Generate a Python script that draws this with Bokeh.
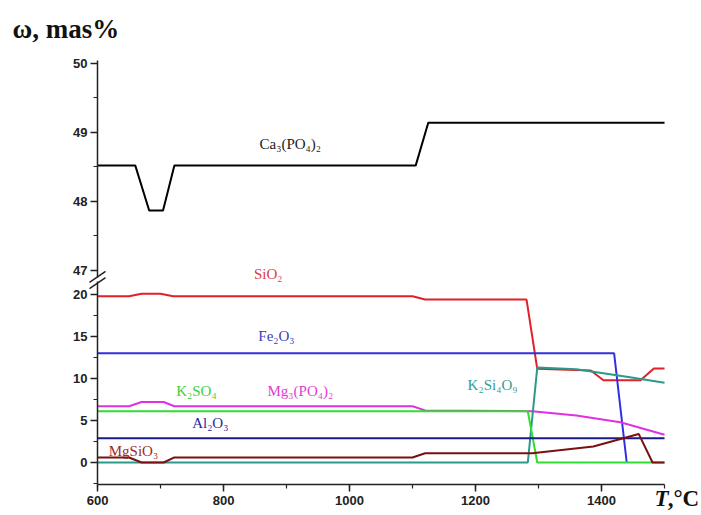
from bokeh.plotting import figure
from bokeh.models import (SingleIntervalTicker, Label, Range1d, LinearAxis)
from bokeh.embed import file_html
from bokeh.resources import INLINE

# ---- data (T in °C, ω in mass %) ----
ca_T = [600, 660, 682, 704, 722, 1105, 1125, 1500]
ca_v = [48.52, 48.52, 47.87, 47.87, 48.52, 48.52, 49.14, 49.14]

sio2_T = [600, 650, 670, 700, 720, 1100, 1120, 1281, 1298, 1383, 1403, 1462, 1483, 1500]
sio2_v = [19.8, 19.8, 20.1, 20.1, 19.8, 19.8, 19.4, 19.4, 11.15, 10.95, 9.8, 9.8, 11.2, 11.2]

fe2o3_T = [600, 1420, 1440]
fe2o3_v = [13.0, 13.0, 0.0]

mg3_T = [600, 650, 670, 705, 722, 1100, 1120, 1290, 1360, 1430, 1500]
mg3_v = [6.7, 6.7, 7.2, 7.2, 6.7, 6.7, 6.2, 6.1, 5.6, 4.8, 3.3]

k2so4_T = [600, 1283, 1298, 1500]
k2so4_v = [6.1, 6.1, 0.0, 0.0]

k2si_T = [600, 1283, 1298, 1360, 1440, 1500]
k2si_v = [0.0, 0.0, 11.3, 11.1, 10.2, 9.5]

al2o3_T = [600, 1500]
al2o3_v = [2.9, 2.9]

mgsio3_T = [600, 650, 670, 705, 722, 1100, 1120, 1290, 1387, 1459, 1481, 1500]
mgsio3_v = [0.6, 0.6, 0.0, 0.0, 0.6, 0.6, 1.1, 1.1, 1.9, 3.4, 0.0, 0.0]

FONT_TICK = "Liberation Sans"
FONT_SERIF = "Liberation Serif"

# Whole canvas is the frame; axes are drawn at fixed locations inside it.
p = figure(width=701, height=515, output_backend="svg", toolbar_location=None,
           x_range=Range1d(446.0, 1558.7), y_range=Range1d(-6.31, 55.0),
           min_border=0, min_border_left=0, min_border_right=0,
           min_border_top=0, min_border_bottom=0,
           x_axis_location=None, y_axis_location=None)
p.extra_y_ranges = {"upper": Range1d(43.449, 50.913)}
p.outline_line_color = None
p.xgrid.visible = False
p.ygrid.visible = False


def style_axis(ax):
    ax.axis_line_color = "#222"
    ax.axis_line_width = 1.5
    ax.major_tick_line_color = "#222"
    ax.minor_tick_line_color = "#222"
    ax.major_tick_line_width = 1.5
    ax.minor_tick_line_width = 1.2
    ax.major_tick_out = 7
    ax.major_tick_in = 0
    ax.minor_tick_out = 4
    ax.minor_tick_in = 0
    ax.major_label_text_font = FONT_TICK
    ax.major_label_text_font_style = "bold"
    ax.major_label_text_font_size = "13px"
    ax.major_label_text_color = "#222"
    ax.major_label_standoff = 3


ax_up = LinearAxis(y_range_name="upper", fixed_location=600, bounds=(46.9, 50.04),
                   ticker=SingleIntervalTicker(interval=1, num_minor_ticks=2))
ax_lo = LinearAxis(fixed_location=600, bounds=(-2.62, 21.5),
                   ticker=SingleIntervalTicker(interval=5, num_minor_ticks=2))
ax_x = LinearAxis(fixed_location=-2.62, bounds=(600, 1500),
                  ticker=SingleIntervalTicker(interval=200, num_minor_ticks=2))
for ax in (ax_up, ax_lo, ax_x):
    style_axis(ax)
ax_x.major_label_standoff = 4
p.add_layout(ax_up, "left")
p.add_layout(ax_lo, "left")
p.add_layout(ax_x, "below")

# axis break marks
p.segment(x0=[587.3, 587.3], y0=[21.43, 20.71], x1=[612.7, 612.7], y1=[22.74, 22.02],
          line_color="#222", line_width=1.5)

p.line(ca_T, ca_v, color="black", line_width=2, y_range_name="upper")
p.line(sio2_T, sio2_v, color="#e0202a", line_width=2)
p.line(fe2o3_T, fe2o3_v, color="#3030e0", line_width=2)
p.line(mg3_T, mg3_v, color="#e030e0", line_width=2)
p.line(k2si_T, k2si_v, color="#2a9a8a", line_width=2)
p.line(k2so4_T, k2so4_v, color="#30dd30", line_width=2)
p.line(al2o3_T, al2o3_v, color="#1a1a8c", line_width=2)
p.line(mgsio3_T, mgsio3_v, color="#7a1010", line_width=2)

p.add_layout(Label(x=906, y=48.84, y_range_name="upper", text="Ca₃(PO₄)₂",
                   text_align="center", text_baseline="middle",
                   text_font=FONT_SERIF, text_font_size="15px", text_color="#222"))
p.add_layout(Label(x=465, y=50.5, y_range_name="upper", text="ω, mas%",
                   text_align="left", text_baseline="middle",
                   text_font=FONT_SERIF, text_font_size="27px",
                   text_font_style="bold", text_color="#111"))

labels = [
    (871, 22.4, "SiO₂", "#e03a44"),
    (884, 15.1, "Fe₂O₃", "#3a3ac0"),
    (922, 8.57, "Mg₃(PO₄)₂", "#e040d0"),
    (757, 8.57, "K₂SO₄", "#3ad03a"),
    (1227, 9.2, "K₂Si₄O₉", "#3a9a90"),
    (779, 4.76, "Al₂O₃", "#2a2aa0"),
    (657, 1.4, "MgSiO₃", "#a02a2a"),
]
for x, y, t, c in labels:
    p.add_layout(Label(x=x, y=y, text=t, text_align="center",
                       text_baseline="middle", text_font=FONT_SERIF,
                       text_font_size="15px", text_color=c))

p.add_layout(Label(x=1484, y=-4.3, text="T", text_align="left",
                   text_baseline="middle", text_font=FONT_SERIF,
                   text_font_size="23px", text_font_style="bold italic",
                   text_color="#111"))
p.add_layout(Label(x=1505, y=-4.3, text=",°C", text_align="left",
                   text_baseline="middle", text_font=FONT_SERIF,
                   text_font_size="23px", text_font_style="bold",
                   text_color="#111"))

open("out.html", "w").write(file_html(p, INLINE))
